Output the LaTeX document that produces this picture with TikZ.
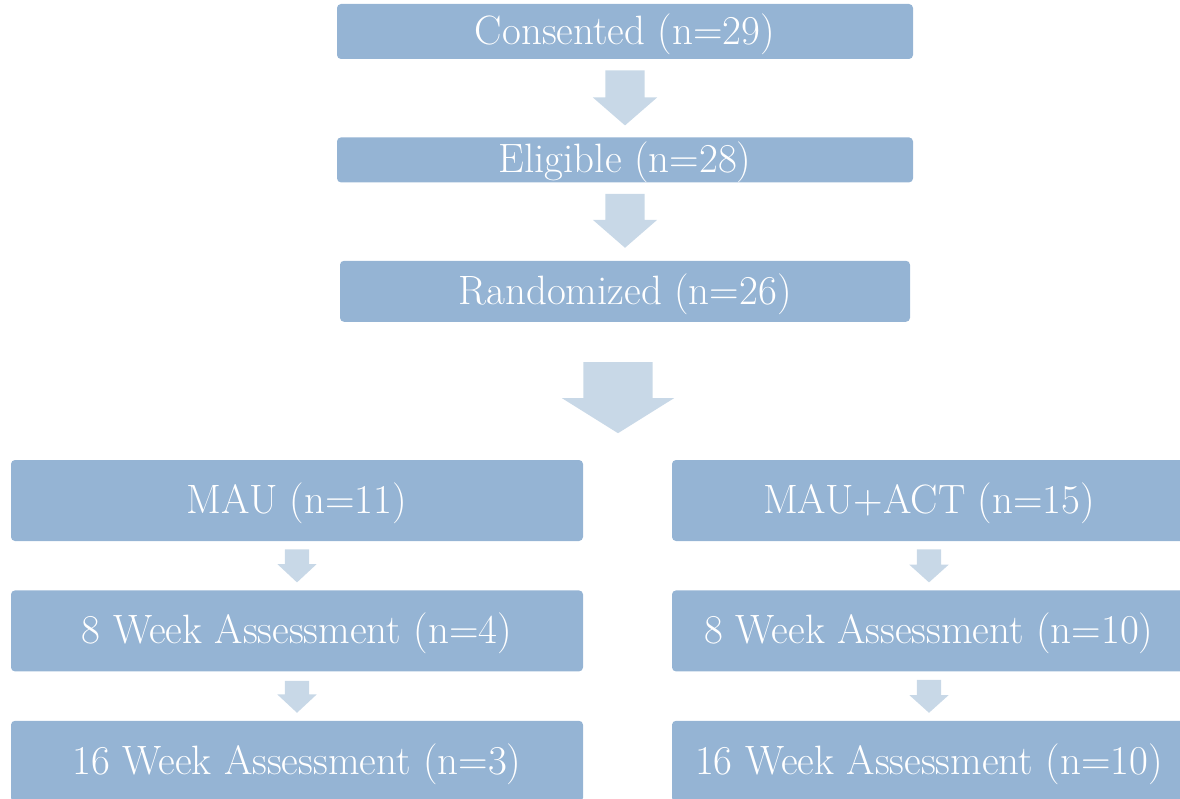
\documentclass[tikz,border=0pt]{standalone}
\usepackage{tikz}
\usetikzlibrary{positioning,shapes.arrows,calc}
\definecolor{boxblue}{RGB}{149,180,212}
\definecolor{arrowblue}{RGB}{200,216,231}
\tikzstyle{stage} = [rectangle, rounded corners=4pt, fill=boxblue, text=white, inner sep=0pt, text height=30pt, text depth=4pt, align=center]
\tikzstyle{flowarrow} = [single arrow, shape border rotate=270, fill=arrowblue, inner ysep=0pt, single arrow head indent=0pt, anchor=tail]

\begin{document}
\begin{tikzpicture}[x=1pt, y=-1pt, font=\fontsize{41}{49}\selectfont]
			\useasboundingbox (0,0) rectangle (1180,799);
			\node[stage, minimum width=576pt, minimum height=55pt] (consented) at (625,31.5) {Consented (n=29)};
			\node[stage, minimum width=576pt, minimum height=45pt, below=78pt of consented] (eligible) {Eligible (n=28)};
			\node[stage, minimum width=570pt, minimum height=61pt, below=78pt of eligible] (randomized) {Randomized (n=26)};
			\node[stage, minimum width=572pt, minimum height=81pt] (mau) at (297,500.5) {MAU (n=11)};
			\node[stage, minimum width=572pt, minimum height=81pt, below=49pt of mau] (mauweek8) {8 Week Assessment (n=4)};
			\node[stage, minimum width=572pt, minimum height=81pt, below=49pt of mauweek8] (mauweek16) {16 Week Assessment (n=3)};
			\node[stage, minimum width=514pt, minimum height=81pt] (act) at (929,500.5) {MAU+ACT (n=15)};
			\node[stage, minimum width=514pt, minimum height=81pt, below=49pt of act] (actweek8) {8 Week Assessment (n=10)};
			\node[stage, minimum width=514pt, minimum height=81pt, below=49pt of actweek8] (actweek16) {16 Week Assessment (n=10)};
			% arrows between the stages
			\node[flowarrow, minimum height=55pt, inner xsep=19.5pt, single arrow head extend=12.5pt, single arrow tip angle=98, below=11pt of consented.south] (a1) {};
			\node[flowarrow, minimum height=54pt, inner xsep=19.5pt, single arrow head extend=12.5pt, single arrow tip angle=98, below=11pt of eligible.south] (a2) {};
			\node[flowarrow, minimum height=71pt, inner xsep=34.5pt, single arrow head extend=21.5pt, single arrow tip angle=116, below=40pt of randomized.south, xshift=-7pt] (a3) {};
			\node[flowarrow, minimum height=33pt, inner xsep=12pt, single arrow head extend=7.5pt, single arrow tip angle=94, below=8pt of mau.south] (a4) {};
			\node[flowarrow, minimum height=32pt, inner xsep=12pt, single arrow head extend=7.5pt, single arrow tip angle=94, below=9pt of mauweek8.south] (a5) {};
			\node[flowarrow, minimum height=33pt, inner xsep=12pt, single arrow head extend=7.5pt, single arrow tip angle=96, below=8pt of act.south] (a6) {};
			\node[flowarrow, minimum height=33pt, inner xsep=12pt, single arrow head extend=7.5pt, single arrow tip angle=96, below=8pt of actweek8.south] (a7) {};
\end{tikzpicture}
\end{document}
